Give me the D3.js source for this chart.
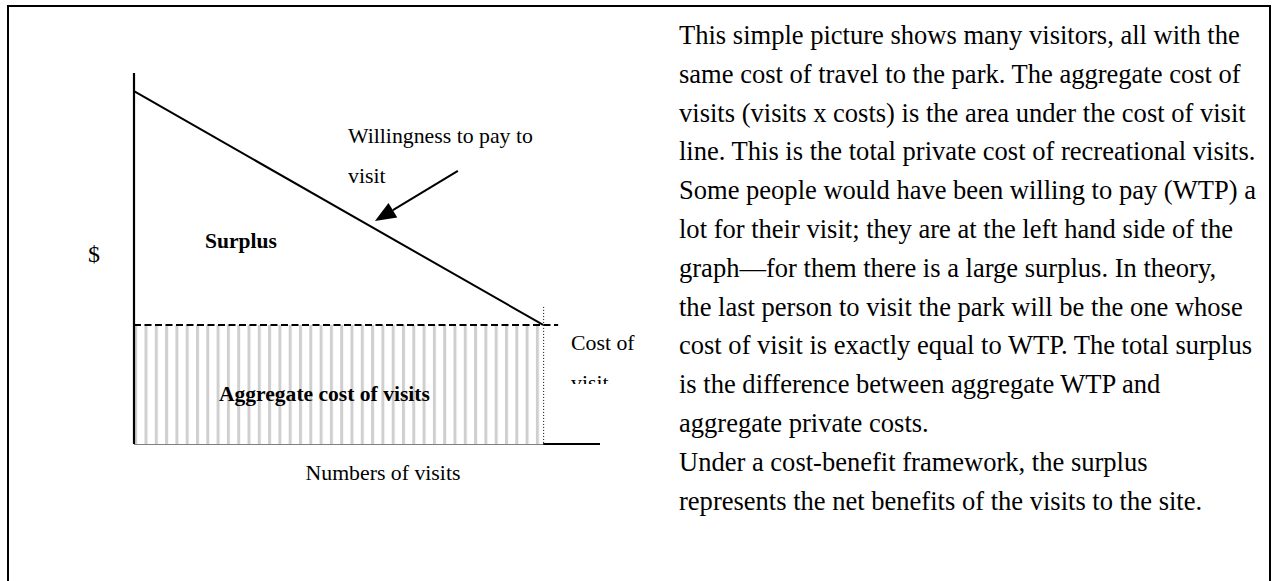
<!DOCTYPE html>
<html>
<head>
<meta charset="utf-8">
<script src="https://cdn.jsdelivr.net/npm/d3@7/dist/d3.min.js"></script>
<style>
  body { margin: 0; background: #fff; }
  svg { display: block; }
</style>
</head>
<body>
<div id="chart"></div>
<script>

// ---- data (axes run 0..100) ----
var visitsMax = 100;
var dollarsMax = 100;
var wtpLine = [ {visits: 0, dollars: 95.1}, {visits: 87.8, dollars: 32.1} ];
var costOfVisit = 32.1;
var lastVisit = 87.8;
var arrowPts = [ {visits: 69.5, dollars: 73.6}, {visits: 51.7, dollars: 60.1} ];

var wtpLabel = ["Willingness to pay to", "visit"];
var costLabel = ["Cost of", "visit"];
var surplusLabel = "Surplus";
var aggLabel = "Aggregate cost of visits";
var xLabel = "Numbers of visits";
var yLabel = "$";

var notes = [
    "This simple picture shows many visitors, all with the",
    "same cost of travel to the park. The aggregate cost of",
    "visits (visits x costs) is the area under the cost of visit",
    "line. This is the total private cost of recreational visits.",
    "Some people would have been willing to pay (WTP) a",
    "lot for their visit; they are at the left hand side of the",
    "graph\u2014for them there is a large surplus. In theory,",
    "the last person to visit the park will be the one whose",
    "cost of visit is exactly equal to WTP. The total surplus",
    "is the difference between aggregate WTP and",
    "aggregate private costs.",
    "Under a cost-benefit framework, the surplus",
    "represents the net benefits of the visits to the site."
];

// ---- layout ----
var W = 1276, H = 581;
var font = "'Liberation Serif', 'Times New Roman', serif";

var svg = d3.select("#chart").append("svg")
    .attr("width", W)
    .attr("height", H);

var x = d3.scaleLinear().domain([0, visitsMax]).range([134, 600]);
var y = d3.scaleLinear().domain([0, dollarsMax]).range([444, 73]);

// font size so that a string is targetW pixels wide
function fitSize(str, targetW, weight) {
    var t = svg.append("text")
        .attr("font-family", font)
        .attr("font-weight", weight || "normal")
        .attr("font-size", 100)
        .text(str);
    var len = t.node().getComputedTextLength();
    t.remove();
    return 100 * targetW / len;
}

var labelSize = fitSize(wtpLabel[0], 185);
var boldSize = fitSize(aggLabel, 211, "bold");
var noteSize = fitSize(notes[0], 561);

// frame
svg.append("rect")
    .attr("x", 8).attr("y", 6)
    .attr("width", 1262).attr("height", 640)
    .attr("fill", "none")
    .attr("stroke", "#000")
    .attr("stroke-width", 2);

var g = svg.append("g");

// hatched area under the cost line
var defs = svg.append("defs");
var pat = defs.append("pattern")
    .attr("id", "stripes")
    .attr("patternUnits", "userSpaceOnUse")
    .attr("x", 144.5).attr("y", 0)
    .attr("width", 10.3).attr("height", 10);
pat.append("rect")
    .attr("x", 0).attr("y", 0)
    .attr("width", 3).attr("height", 10)
    .attr("fill", "#cfcfcf");

g.append("rect")
    .attr("x", x(0))
    .attr("y", y(costOfVisit))
    .attr("width", x(lastVisit) - x(0))
    .attr("height", y(0) - y(costOfVisit))
    .attr("fill", "url(#stripes)");

// x axis: grey under the hatching, black after
g.append("line")
    .attr("x1", x(0)).attr("x2", x(lastVisit))
    .attr("y1", y(0) + 0.5).attr("y2", y(0) + 0.5)
    .attr("stroke", "#808080")
    .attr("stroke-width", 1);
g.append("line")
    .attr("x1", x(lastVisit)).attr("x2", x(visitsMax))
    .attr("y1", y(0)).attr("y2", y(0))
    .attr("stroke", "#000")
    .attr("stroke-width", 1.8);

// y axis
g.append("line")
    .attr("x1", x(0)).attr("x2", x(0))
    .attr("y1", y(dollarsMax)).attr("y2", y(0))
    .attr("stroke", "#000")
    .attr("stroke-width", 2.2);

// dashed cost of visit line
g.append("line")
    .attr("x1", x(0)).attr("x2", x(lastVisit) + 15)
    .attr("y1", y(costOfVisit)).attr("y2", y(costOfVisit))
    .attr("stroke", "#000")
    .attr("stroke-width", 2)
    .attr("stroke-dasharray", "7,3.5");

// dotted marker for the last visit
g.append("line")
    .attr("x1", x(lastVisit) + 0.5).attr("x2", x(lastVisit) + 0.5)
    .attr("y1", y(costOfVisit) - 18).attr("y2", y(0))
    .attr("stroke", "#000")
    .attr("stroke-width", 1)
    .attr("stroke-dasharray", "1,2");

// willingness to pay
var line = d3.line()
    .x(function(d) { return x(d.visits); })
    .y(function(d) { return y(d.dollars); });

g.append("path")
    .datum(wtpLine)
    .attr("d", line)
    .attr("fill", "none")
    .attr("stroke", "#000")
    .attr("stroke-width", 2);

// arrow to the WTP line
var a0 = [x(arrowPts[0].visits), y(arrowPts[0].dollars)];
var a1 = [x(arrowPts[1].visits), y(arrowPts[1].dollars)];
var ang = Math.atan2(a1[1] - a0[1], a1[0] - a0[0]);
var headL = 21, headW = 8.5;
var bx = a1[0] - headL * Math.cos(ang), by = a1[1] - headL * Math.sin(ang);

g.append("line")
    .attr("x1", a0[0]).attr("y1", a0[1])
    .attr("x2", bx).attr("y2", by)
    .attr("stroke", "#000")
    .attr("stroke-width", 2);
g.append("path")
    .attr("d", "M" + a1[0] + "," + a1[1]
          + "L" + (bx + headW * Math.sin(ang)) + "," + (by - headW * Math.cos(ang))
          + "L" + (bx - headW * Math.sin(ang)) + "," + (by + headW * Math.cos(ang))
          + "Z")
    .attr("fill", "#000");

// labels
var lab = g.append("g")
    .attr("font-family", font)
    .attr("fill", "#000");

lab.selectAll("text.wtp")
    .data(wtpLabel)
    .enter().append("text")
    .attr("class", "wtp")
    .attr("x", 348)
    .attr("y", function(d, i) { return 143 + i * 40; })
    .attr("font-size", labelSize)
    .text(function(d) { return d; });

// "Cost of visit" text box, its second line cut by the box
defs.append("clipPath")
    .attr("id", "costclip")
    .append("rect")
    .attr("x", 560).attr("y", 320)
    .attr("width", 100).attr("height", 64);

lab.append("g")
    .attr("clip-path", "url(#costclip)")
    .selectAll("text")
    .data(costLabel)
    .enter().append("text")
    .attr("x", 571)
    .attr("y", function(d, i) { return 350 + i * 40; })
    .attr("font-size", labelSize)
    .text(function(d) { return d; });

lab.append("text")
    .attr("x", 205).attr("y", 248)
    .attr("font-size", boldSize)
    .attr("font-weight", "bold")
    .text(surplusLabel);

lab.append("text")
    .attr("x", 219).attr("y", 401)
    .attr("font-size", boldSize)
    .attr("font-weight", "bold")
    .text(aggLabel);

lab.append("text")
    .attr("x", 383).attr("y", 480)
    .attr("text-anchor", "middle")
    .attr("font-size", labelSize)
    .text(xLabel);

lab.append("text")
    .attr("x", 94).attr("y", 262)
    .attr("text-anchor", "middle")
    .attr("font-size", labelSize * 1.1)
    .text(yLabel);

// explanatory notes on the right
g.append("g")
    .attr("font-family", font)
    .attr("font-size", noteSize)
    .attr("fill", "#000")
    .selectAll("text")
    .data(notes)
    .enter().append("text")
    .attr("x", 679)
    .attr("y", function(d, i) { return 44 + i * 38.8; })
    .text(function(d) { return d; });

</script>
</body>
</html>
